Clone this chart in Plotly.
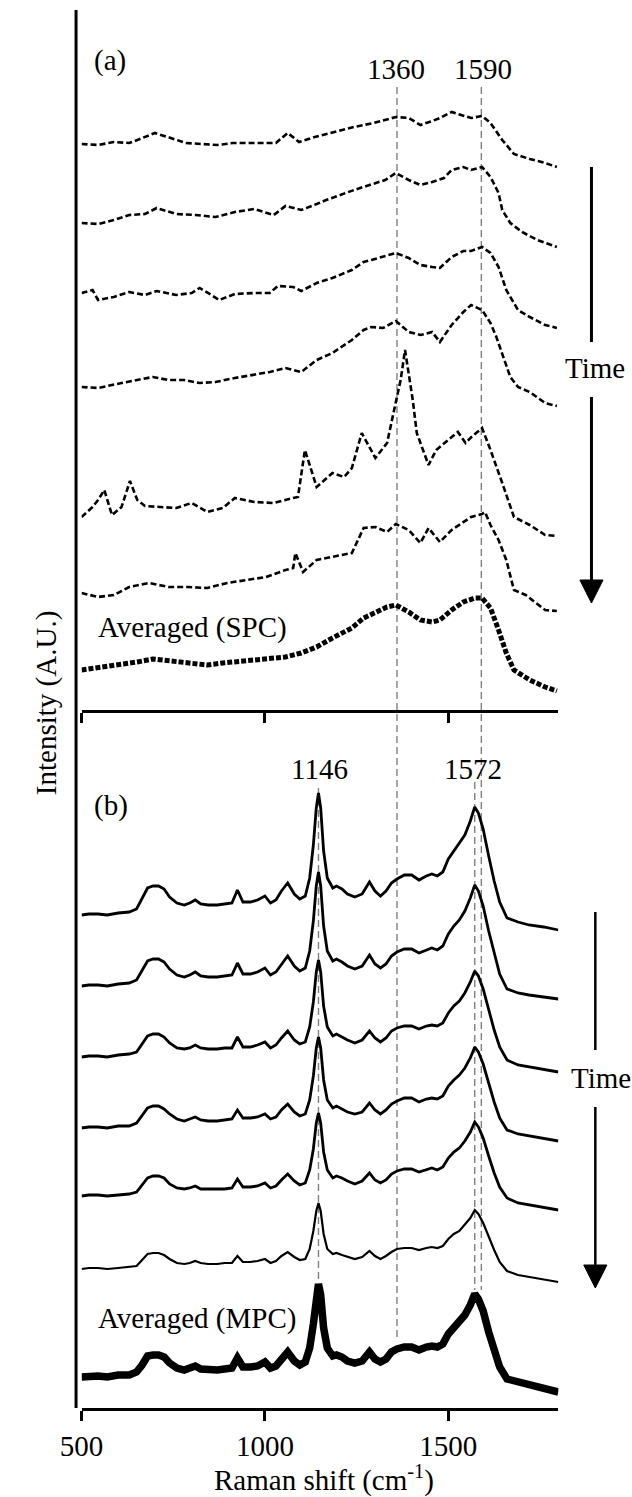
import plotly.graph_objects as go

W, H = 632, 1497
FONT = "Liberation Serif"

# ---------------- Panel (a): single-particle spectra (dashed) ----------------
a1_x = [500, 545, 588, 630, 652, 700, 743, 785, 828, 870, 913, 955, 998, 1030, 1062, 1093, 1136, 1190, 1243, 1296, 1328, 1357, 1392, 1424, 1456, 1477, 1509, 1541, 1562, 1592, 1615, 1647, 1679, 1722, 1764, 1796]
a1_y = [566, 565, 568, 567, 570, 577, 572, 567, 566, 565, 567, 567, 567, 567, 577, 568, 573, 578, 583, 587, 590, 593, 592, 585, 589, 592, 598, 594, 592, 594, 587, 570, 556, 551, 547, 543]

a2_x = [500, 545, 588, 630, 673, 705, 758, 811, 865, 918, 971, 1024, 1056, 1099, 1141, 1167, 1243, 1296, 1328, 1357, 1392, 1424, 1456, 1488, 1509, 1541, 1562, 1592, 1615, 1637, 1647, 1669, 1701, 1743, 1796]
a2_y = [487, 486, 490, 495, 496, 502, 496, 495, 493, 498, 501, 495, 504, 500, 506, 510, 520, 526, 530, 537, 530, 525, 528, 532, 540, 543, 540, 543, 533, 517, 500, 487, 478, 470, 463]

a3_x = [500, 530, 545, 588, 630, 673, 705, 758, 800, 822, 854, 875, 918, 971, 1013, 1035, 1077, 1099, 1141, 1184, 1237, 1269, 1290, 1322, 1357, 1392, 1424, 1456, 1477, 1509, 1541, 1562, 1592, 1615, 1637, 1658, 1690, 1722, 1764, 1796]
a3_y = [417, 420, 410, 413, 418, 415, 419, 415, 417, 422, 415, 410, 416, 417, 417, 424, 423, 419, 427, 432, 440, 448, 450, 453, 457, 452, 445, 443, 442, 453, 459, 459, 463, 457, 443, 420, 400, 393, 385, 382]

a4_x = [500, 545, 609, 652, 694, 737, 779, 822, 865, 918, 971, 1013, 1056, 1099, 1141, 1184, 1237, 1269, 1290, 1322, 1357, 1392, 1424, 1456, 1477, 1509, 1541, 1562, 1592, 1615, 1631, 1647, 1669, 1690, 1722, 1764, 1796]
a4_y = [323, 322, 327, 330, 333, 330, 330, 327, 328, 332, 335, 338, 342, 338, 350, 357, 370, 380, 383, 382, 389, 378, 375, 378, 368, 385, 398, 405, 400, 387, 373, 357, 333, 323, 318, 307, 304]

a5_x = [500, 530, 545, 562, 583, 609, 632, 652, 673, 715, 758, 800, 843, 885, 918, 971, 1024, 1077, 1090, 1109, 1141, 1184, 1216, 1237, 1264, 1301, 1333, 1354, 1370, 1382, 1395, 1403, 1414, 1446, 1467, 1499, 1526, 1547, 1563, 1592, 1615, 1647, 1679, 1722, 1764, 1796]
a5_y = [193, 203, 210, 220, 195, 203, 229, 210, 204, 203, 202, 207, 198, 202, 212, 208, 207, 212, 213, 260, 223, 237, 233, 242, 277, 252, 267, 303, 330, 360, 330, 310, 277, 245, 260, 270, 278, 267, 273, 282, 260, 227, 193, 185, 175, 174]

a6_x = [500, 545, 588, 630, 684, 737, 790, 843, 897, 950, 1003, 1056, 1077, 1083, 1104, 1141, 1184, 1237, 1269, 1301, 1333, 1357, 1392, 1424, 1446, 1477, 1509, 1541, 1562, 1592, 1600, 1615, 1637, 1658, 1679, 1711, 1764, 1796]
a6_y = [117, 113, 115, 123, 127, 123, 123, 122, 127, 130, 133, 140, 142, 157, 138, 150, 153, 157, 182, 183, 178, 186, 180, 167, 182, 168, 180, 188, 193, 196, 198, 185, 170, 150, 120, 115, 100, 99]

spc_x = [500, 545, 598, 652, 694, 737, 790, 843, 885, 950, 1003, 1056, 1099, 1141, 1184, 1237, 1269, 1301, 1333, 1357, 1392, 1424, 1456, 1477, 1509, 1541, 1573, 1592, 1615, 1637, 1658, 1679, 1722, 1764, 1796]
spc_y = [40, 42, 45, 48, 51, 49, 47, 45, 47, 49, 51, 53, 57, 63, 72, 82, 92, 97, 103, 105, 98, 90, 88, 90, 100, 108, 112, 112, 102, 80, 57, 40, 30, 23, 19]

# ---------------- Panel (b): multi-particle spectra (solid) ----------------
b_x = [500, 520, 545, 570, 600, 630, 650, 665, 680, 695, 710, 725, 740, 760, 780, 795, 810, 825, 845, 870,
       890, 910, 925, 940, 960, 980, 1000, 1015, 1030, 1045, 1062, 1080, 1095, 1110, 1122, 1132, 1140, 1146, 1152, 1160,
       1170, 1185, 1195, 1210, 1225, 1245, 1265, 1285, 1300, 1315, 1330, 1345, 1360, 1380, 1400, 1420, 1440, 1455, 1470, 1485,
       1500, 1515, 1530, 1545, 1560, 1572, 1582, 1595, 1610, 1625, 1640, 1660, 1690, 1720, 1760, 1800]
b1_y = [493, 494, 494, 493, 495, 496, 499, 509, 520, 522, 522, 519, 511, 505, 503, 505, 508, 504, 503, 503,
        504, 505, 518, 506, 506, 508, 512, 505, 508, 517, 525, 514, 509, 512, 530, 563, 600, 615, 600, 557,
        530, 520, 522, 519, 514, 511, 514, 526, 517, 512, 517, 525, 529, 533, 533, 528, 532, 534, 532, 536,
        549, 557, 564, 573, 587, 601, 595, 579, 552, 527, 506, 490, 486, 483, 481, 478]
b2_y = [422, 423, 423, 422, 424, 425, 428, 437, 447, 449, 449, 446, 439, 433, 431, 433, 436, 432, 431, 431,
        432, 433, 445, 434, 434, 436, 440, 433, 436, 444, 452, 442, 437, 440, 457, 487, 522, 536, 522, 482,
        457, 447, 449, 446, 442, 439, 442, 453, 444, 440, 444, 452, 456, 459, 459, 455, 458, 460, 458, 462,
        474, 482, 488, 497, 510, 523, 517, 502, 477, 454, 434, 419, 415, 413, 411, 409]
b3_y = [351, 352, 352, 351, 353, 354, 356, 364, 372, 374, 374, 371, 365, 360, 359, 360, 363, 360, 359, 359,
        360, 360, 371, 361, 361, 363, 366, 360, 363, 370, 377, 368, 364, 366, 381, 406, 436, 448, 436, 402,
        381, 372, 374, 371, 368, 365, 368, 377, 370, 366, 370, 377, 380, 382, 382, 379, 382, 383, 382, 385,
        395, 402, 407, 415, 426, 437, 432, 419, 398, 378, 361, 348, 343, 341, 339, 336]
b4_y = [280, 281, 281, 280, 282, 282, 285, 292, 300, 302, 302, 299, 294, 289, 287, 289, 291, 288, 287, 287,
        288, 289, 298, 290, 290, 291, 294, 289, 291, 298, 304, 296, 292, 294, 308, 332, 360, 371, 360, 328,
        308, 300, 302, 299, 296, 294, 296, 305, 298, 294, 298, 304, 307, 310, 310, 306, 309, 310, 309, 312,
        322, 328, 333, 340, 350, 361, 356, 344, 324, 306, 290, 278, 274, 272, 270, 267]
b5_y = [212, 213, 213, 212, 213, 214, 216, 223, 230, 232, 232, 230, 224, 220, 219, 220, 222, 219, 219, 219,
        219, 220, 229, 221, 221, 222, 225, 220, 222, 228, 234, 227, 223, 225, 238, 259, 285, 295, 285, 256,
        238, 230, 232, 230, 227, 224, 227, 235, 228, 225, 228, 234, 237, 239, 239, 236, 238, 240, 238, 241,
        250, 256, 260, 267, 276, 286, 281, 270, 252, 235, 221, 210, 205, 203, 201, 198]
b6_y = [139, 140, 140, 139, 140, 141, 142, 148, 154, 155, 155, 153, 149, 145, 144, 145, 147, 145, 144, 144,
        145, 145, 152, 146, 146, 147, 149, 145, 147, 152, 156, 151, 148, 149, 159, 177, 197, 205, 197, 174,
        159, 154, 155, 153, 151, 149, 151, 157, 152, 149, 152, 156, 159, 160, 160, 158, 160, 161, 160, 162,
        169, 174, 177, 183, 190, 198, 194, 185, 171, 158, 146, 137, 133, 131, 129, 126]
mpc_y = [31, 32, 32, 31, 33, 33, 36, 43, 52, 53, 53, 51, 45, 40, 38, 40, 42, 39, 38, 38,
         39, 40, 50, 41, 41, 42, 46, 40, 42, 49, 56, 47, 43, 46, 60, 84, 113, 124, 113, 80,
         60, 52, 53, 51, 47, 45, 47, 56, 49, 46, 49, 56, 59, 61, 61, 58, 61, 62, 61, 64,
         74, 80, 85, 93, 103, 114, 109, 97, 76, 57, 41, 29, 26, 23, 20, 16]

# marker wavenumbers
peaks_a = [1360, 1590]
peaks_b = [1146, 1572]
x_ticks = [500, 1000, 1500]


def fx(px):
    return px / W


def fy(py):
    return 1 - py / H


fig = go.Figure()

a_series = [(a1_x, a1_y), (a2_x, a2_y), (a3_x, a3_y), (a4_x, a4_y), (a5_x, a5_y), (a6_x, a6_y)]
for xs, ys in a_series:
    fig.add_trace(go.Scatter(x=xs, y=ys, mode="lines", xaxis="x", yaxis="y",
                             line=dict(color="black", width=2.6, dash="6px,3px"), showlegend=False))
fig.add_trace(go.Scatter(x=spc_x, y=spc_y, mode="lines", xaxis="x", yaxis="y",
                         line=dict(color="black", width=5, dash="5px,2px"), showlegend=False))

for ys in [b1_y, b2_y, b3_y, b4_y, b5_y]:
    fig.add_trace(go.Scatter(x=b_x, y=ys, mode="lines", xaxis="x2", yaxis="y2",
                             line=dict(color="black", width=2.8), showlegend=False))
fig.add_trace(go.Scatter(x=b_x, y=b6_y, mode="lines", xaxis="x2", yaxis="y2",
                         line=dict(color="black", width=2.2), showlegend=False))
fig.add_trace(go.Scatter(x=b_x, y=mpc_y, mode="lines", xaxis="x2", yaxis="y2",
                         line=dict(color="black", width=7.5), showlegend=False))

xdom = [fx(61.7), fx(555.7)]
axis_common = dict(range=[500, 1800], domain=xdom, showline=True, linecolor="black", linewidth=3,
                   ticks="outside", ticklen=10, tickwidth=2.5, tickcolor="black",
                   tickvals=x_ticks, showgrid=False, zeroline=False)

fig.update_layout(
    width=W, height=H, margin=dict(l=0, r=0, t=0, b=0),
    paper_bgcolor="white", plot_bgcolor="white",
    font=dict(family=FONT, size=29, color="black"),
    xaxis=dict(**axis_common, anchor="y", showticklabels=False),
    yaxis=dict(domain=[fy(710), fy(10)], range=[0, 700], visible=False, anchor="x"),
    xaxis2=dict(**axis_common, anchor="y2", showticklabels=True,
                tickfont=dict(family=FONT, size=29, color="black")),
    yaxis2=dict(domain=[fy(1408), fy(720)], range=[0, 688], visible=False, anchor="x2"),
)

shapes = []
# left vertical axis line spanning both panels
shapes.append(dict(type="line", xref="paper", yref="paper", x0=fx(56), x1=fx(56), y0=fy(10), y1=fy(1408),
                   line=dict(color="black", width=3)))
# dashed marker lines
gray = "#808080"
for xv, y_top, y_bot in [(peaks_a[0], 87, 1337), (peaks_a[1], 87, 1290),
                         (peaks_b[0], 788, 1283), (peaks_b[1], 782, 1290)]:
    shapes.append(dict(type="line", xref="x", yref="paper", x0=xv, x1=xv, y0=fy(y_top), y1=fy(y_bot),
                       line=dict(color=gray, width=1.4, dash="7px,4px"), layer="below"))

# Time arrows
for xa, top, gap1, gap2, tip, lw in [(590, 167, 342, 397, 603, 3), (594, 912, 1050, 1107, 1288, 2.5)]:
    shapes.append(dict(type="line", xref="paper", yref="paper", x0=fx(xa), x1=fx(xa), y0=fy(top), y1=fy(gap1),
                       line=dict(color="black", width=lw)))
    shapes.append(dict(type="line", xref="paper", yref="paper", x0=fx(xa), x1=fx(xa), y0=fy(gap2), y1=fy(tip - 20),
                       line=dict(color="black", width=lw)))
    path = "M {},{} L {},{} L {},{} Z".format(fx(xa - 12), fy(tip - 23), fx(xa + 12), fy(tip - 23), fx(xa), fy(tip))
    shapes.append(dict(type="path", xref="paper", yref="paper", path=path,
                       fillcolor="black", line=dict(color="black", width=1)))
fig.update_layout(shapes=shapes)

ann = []


def txt(text, x, y, xanchor="center", size=29, angle=0):
    ann.append(dict(text=text, x=fx(x), y=fy(y), xref="paper", yref="paper", showarrow=False,
                    xanchor=xanchor, yanchor="middle", textangle=angle,
                    font=dict(family=FONT, size=size, color="black")))


txt("(a)", 73, 60, xanchor="left")
txt("(b)", 73, 805, xanchor="left")
txt(str(peaks_a[0]), 388, 69)
txt(str(peaks_a[1]), 478, 69)
txt(str(peaks_b[0]), 308, 769)
txt(str(peaks_b[1]), 467, 769)
txt("Averaged (SPC)", 77, 627, xanchor="left")
txt("Averaged (MPC)", 77, 1318, xanchor="left")
txt("Time", 594, 368)
txt("Time", 600, 1078)
txt("Raman shift (cm<sup>-1</sup>)", 313, 1478)
txt("Intensity (A.U.)", 25, 703, angle=-90)
fig.update_layout(annotations=ann)

# remove the default 8px page margin so the figure sits at the window's top-left corner
fig.write_html("out.html", config={"displayModeBar": False},
               post_script="document.body.style.margin='0px';")
